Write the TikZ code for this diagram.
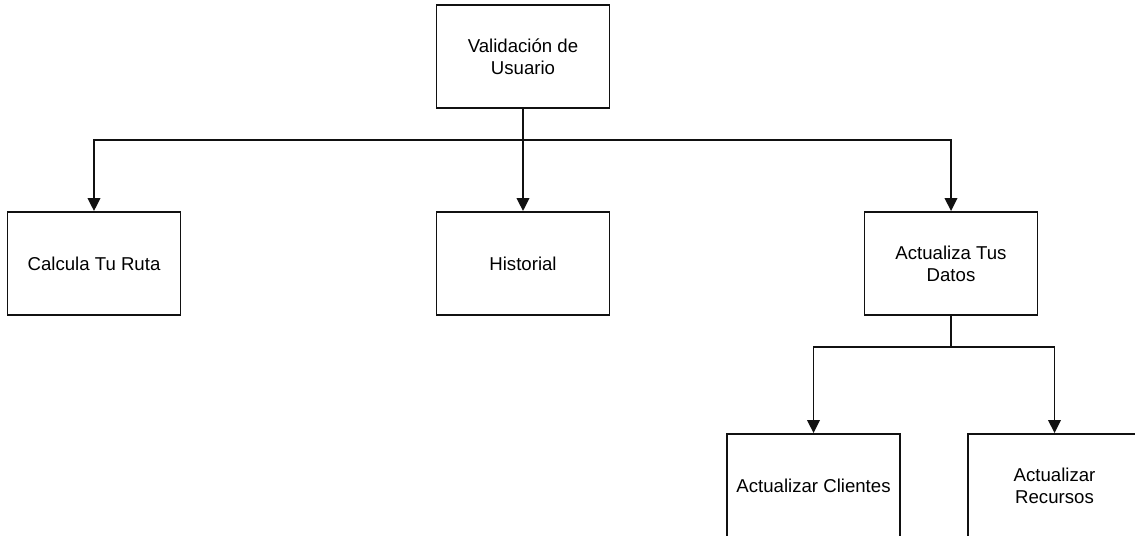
\documentclass[tikz,border=0pt]{standalone}
\usepackage{fontspec}
\setmainfont{Liberation Sans}
\usepackage{xcolor}
\usepackage{tikz}
\usetikzlibrary{arrows.meta,positioning,calc}
\definecolor{Ink}{HTML}{111111}
\tikzset{
  menubox/.style={draw=Ink,line width=1.1pt,fill=white,minimum width=3.46cm,minimum height=2.06cm,align=center,inner sep=0pt,font=\fontsize{10.6pt}{12.6pt}\selectfont},
  arrow/.style={-{Triangle[length=2.6mm,width=2.5mm]},line width=1.1pt,draw=Ink},
  link/.style={line width=1.1pt,draw=Ink}
}

\begin{document}
\begin{tikzpicture}[x=0.02cm,y=-0.02cm]
  \useasboundingbox (0,0) rectangle (1135,535);
  \clip (0,0) rectangle (1135,535);
  % main menu
  \node[menubox] (valida) at (523,56.5) {Validación de\\Usuario};
  \node[menubox] (calcula) at (94,263.5) {Calcula Tu Ruta};
  \node[menubox] (historial) at (523,263.5) {Historial};
  \node[menubox] (actualiza) at (951,263.5) {Actualiza Tus\\Datos};
  % sub menu
  \node[menubox] (clientes) at (813.5,485.5) {Actualizar Clientes};
  \node[menubox] (recursos) at (1054.5,485.5) {Actualizar\\Recursos};
  \coordinate (busA) at (523,140);
  \coordinate (busB) at (951,347);
  \draw[link] (valida.south) -- (busA);
  \draw[arrow] (busA) -| (calcula.north);
  \draw[arrow] (busA) -- (historial.north);
  \draw[arrow] (busA) -| (actualiza.north);
  \draw[link] (actualiza.south) -- (busB);
  \draw[arrow] (busB) -| (clientes.north);
  \draw[arrow] (busB) -| (recursos.north);
\end{tikzpicture}
\end{document}
